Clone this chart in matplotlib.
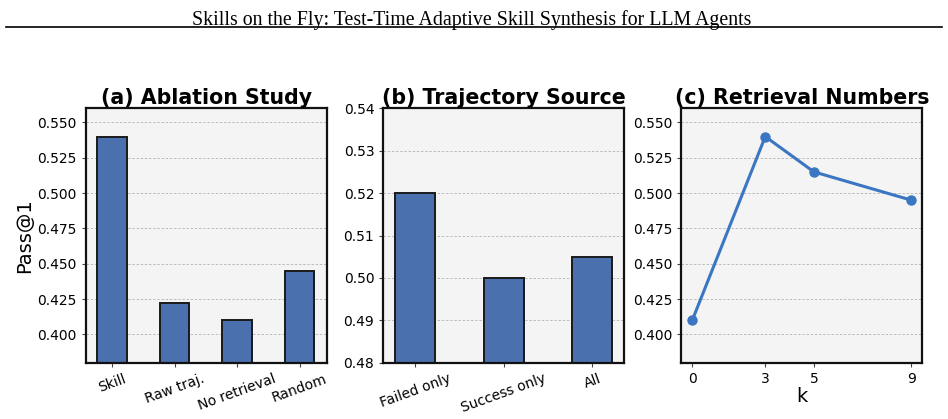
import matplotlib
matplotlib.use("Agg")
import matplotlib.pyplot as plt
from matplotlib.lines import Line2D

header = "Skills on the Fly: Test-Time Adaptive Skill Synthesis for LLM Agents"

abl_labels = ["Skill", "Raw traj.", "No retrieval", "Random"]
abl_values = [0.540, 0.422, 0.410, 0.445]

traj_labels = ["Failed only", "Success only", "All"]
traj_values = [0.520, 0.500, 0.505]

k_values = [0, 3, 5, 9]
k_scores = [0.410, 0.540, 0.515, 0.495]

bar_color = "#4a70ae"
line_color = "#3a76c2"
face = "#f4f4f4"

fig = plt.figure(figsize=(9.48, 4.19), dpi=100)
fig.patch.set_facecolor("white")

fig.text(0.498, 0.975, header, ha="center", va="top",
         family="Liberation Serif", fontsize=14.3)
fig.add_artist(Line2D([0.006, 0.994], [0.935, 0.935], transform=fig.transFigure,
                      color="black", lw=1.2))

W = 241 / 948
B = 1 - 362.7 / 419
H = (362.7 - 108.3) / 419
ax1 = fig.add_axes([85.7 / 948, B, W, H])
ax2 = fig.add_axes([383.3 / 948, B, W, H])
ax3 = fig.add_axes([681.3 / 948, B, W, H])

def style(ax):
    ax.set_facecolor(face)
    ax.set_axisbelow(True)
    ax.yaxis.grid(True, linestyle=(0, (3, 2)), color="#b4b4b4", lw=0.6)
    for s in ax.spines.values():
        s.set_linewidth(1.6)
        s.set_color("#111111")
    ax.tick_params(labelsize=10, length=3, width=0.8, colors="#444444", labelcolor="black")

yt3 = [0.400, 0.425, 0.450, 0.475, 0.500, 0.525, 0.550]
yt2 = [0.48, 0.49, 0.50, 0.51, 0.52, 0.53, 0.54]

# (a)
xa = list(range(len(abl_labels)))
ax1.bar(xa, abl_values, width=0.47, color=bar_color, edgecolor="#1a1a1a", linewidth=1.4)
ax1.set_xticks(xa)
ax1.set_xticklabels(abl_labels, rotation=20, ha="center")
ax1.set_ylim(0.38, 0.56)
ax1.set_yticks(yt3)
ax1.set_yticklabels([f"{v:.3f}" for v in yt3])
ax1.set_xlim(-0.42, 3.43)
ax1.set_ylabel("Pass@1", fontsize=14, labelpad=2)
ax1.set_title("(a) Ablation Study", fontsize=14.8, fontweight="bold", pad=2)
style(ax1)

# (b)
xb = list(range(len(traj_labels)))
ax2.bar(xb, traj_values, width=0.45, color=bar_color, edgecolor="#1a1a1a", linewidth=1.4)
ax2.set_xticks(xb)
ax2.set_xticklabels(traj_labels, rotation=20, ha="center")
ax2.set_ylim(0.48, 0.54)
ax2.set_yticks(yt2)
ax2.set_yticklabels([f"{v:.2f}" for v in yt2])
ax2.set_xlim(-0.36, 2.36)
ax2.set_title("(b) Trajectory Source", fontsize=14.8, fontweight="bold", pad=2)
style(ax2)

# (c)
ax3.plot(k_values, k_scores, color=line_color, lw=2.2, marker="o", markersize=6.5)
ax3.set_xticks(k_values)
ax3.set_ylim(0.38, 0.56)
ax3.set_yticks(yt3)
ax3.set_yticklabels([f"{v:.3f}" for v in yt3])
ax3.set_xlim(-0.45, 9.45)
ax3.set_xlabel("k", fontsize=14, labelpad=1)
ax3.set_title("(c) Retrieval Numbers", fontsize=14.8, fontweight="bold", pad=2)
style(ax3)

fig.savefig("out.png", dpi=100)
